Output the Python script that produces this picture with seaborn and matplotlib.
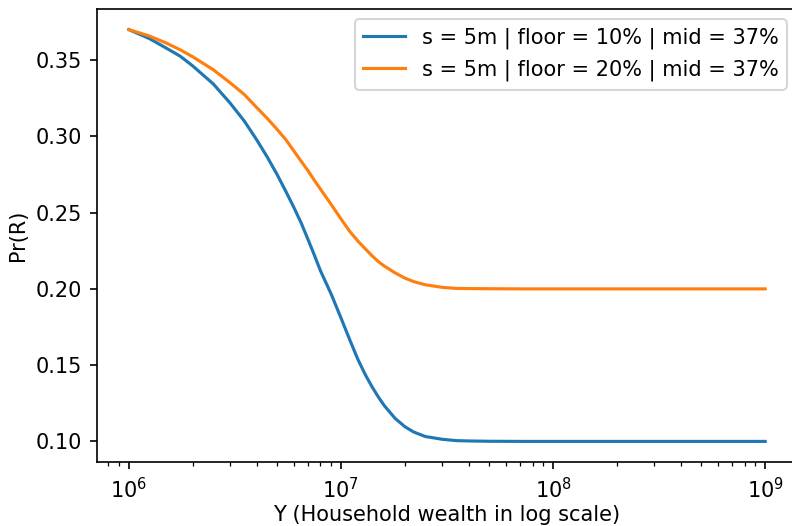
import pandas as pd
import seaborn as sns
import matplotlib.pyplot as plt

# values
wealth = [1e6, 1.25e6, 1.5e6, 1.75e6, 2e6, 2.5e6, 3e6, 3.5e6, 4e6, 4.5e6, 5e6, 5.5e6,
          6e6, 6.5e6, 7e6, 7.5e6, 8e6, 9e6, 1e7, 1.1e7, 1.2e7, 1.3e7, 1.4e7, 1.5e7,
          1.6e7, 1.8e7, 2e7, 2.2e7, 2.5e7, 3e7, 3.5e7, 4e7, 5e7, 7e7, 1e8, 1e9]
pr_floor10 = [0.3700, 0.3641, 0.3579, 0.3525, 0.3462, 0.3344, 0.3219, 0.3101, 0.2979,
              0.2863, 0.2750, 0.2639, 0.2534, 0.2431, 0.2323, 0.2220, 0.2120, 0.1965,
              0.1810, 0.1667, 0.1540, 0.1440, 0.1359, 0.1292, 0.1235, 0.1151, 0.1097,
              0.1062, 0.1032, 0.1014, 0.1005, 0.1003, 0.1001, 0.1000, 0.1000, 0.1000]
pr_floor20 = [0.3700, 0.3658, 0.3612, 0.3567, 0.3522, 0.3437, 0.3352, 0.3275, 0.3190,
              0.3117, 0.3046, 0.2978, 0.2904, 0.2836, 0.2774, 0.2711, 0.2655, 0.2553,
              0.2459, 0.2377, 0.2315, 0.2264, 0.2218, 0.2179, 0.2150, 0.2105, 0.2071,
              0.2048, 0.2027, 0.2010, 0.2003, 0.2002, 0.2001, 0.2000, 0.2000, 0.2000]
labels = ["s = 5m | floor = 10% | mid = 37%", "s = 5m | floor = 20% | mid = 37%"]

df = pd.DataFrame({
    "Y": wealth * 2,
    "Pr": pr_floor10 + pr_floor20,
    "label": [labels[0]] * len(wealth) + [labels[1]] * len(wealth),
})

fig = plt.figure(figsize=(792 / 150, 526 / 150), dpi=150)
ax = fig.add_axes([97 / 792, 64 / 526, 700 / 792, 453 / 526])

for lab, color in zip(labels, ["tab:blue", "tab:orange"]):
    sub = df[df["label"] == lab]
    sns.lineplot(data=sub, x="Y", y="Pr", ax=ax, color=color, label=lab,
                 estimator=None, sort=False, linewidth=1.5)

ax.set_xscale("log")
ax.set_xlabel("Y (Household wealth in log scale)", labelpad=1.5)
ax.set_ylabel("Pr(R)")
ax.set_title("Pr(R) depending on family", pad=10)
ax.legend(loc="upper right")

fig.savefig("out.png", dpi=150)
